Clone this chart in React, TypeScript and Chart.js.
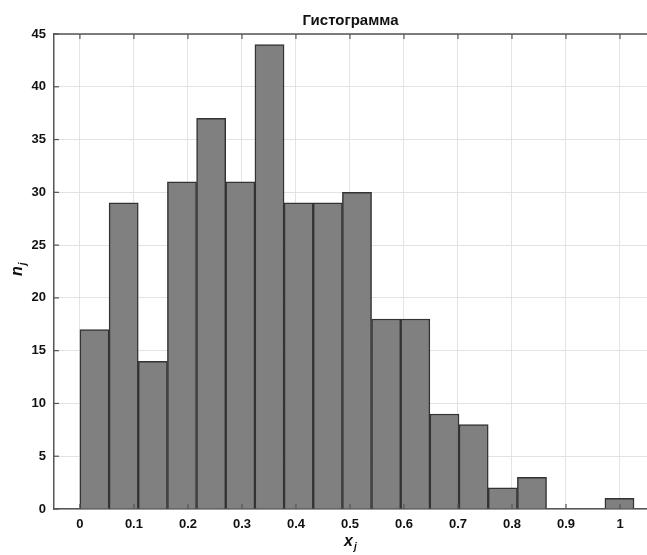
import React, { useEffect, useRef } from "react";
import { Chart, registerables } from "chart.js";

Chart.register(...registerables);

const title = "Гистограмма";
const binEdges = [0, 0.054, 0.108, 0.162, 0.216, 0.27, 0.324, 0.378, 0.432, 0.486, 0.54, 0.594, 0.648, 0.702, 0.756, 0.81, 0.864, 0.918, 0.972, 1.026];
const counts = [17, 29, 14, 31, 37, 31, 44, 29, 29, 30, 18, 18, 9, 8, 2, 3, 0, 0, 1];
const xTicks = [0, 0.1, 0.2, 0.3, 0.4, 0.5, 0.6, 0.7, 0.8, 0.9, 1];
const yTicks = [0, 5, 10, 15, 20, 25, 30, 35, 40, 45];

const FONT = "'Liberation Sans', Arial, Helvetica, sans-serif";

const decorPlugin = {
  id: "decor",
  afterDraw(chart: any) {
    const { ctx, chartArea } = chart;
    const xs = chart.scales.x;
    const ys = chart.scales.y;
    ctx.save();
    ctx.strokeStyle = "#555555";
    ctx.lineWidth = 1.5;
    // top line
    ctx.beginPath();
    ctx.moveTo(chartArea.left, chartArea.top);
    ctx.lineTo(chartArea.right, chartArea.top);
    ctx.stroke();
    ctx.lineWidth = 1.2;
    const tl = 5;
    for (const t of xTicks) {
      const px = xs.getPixelForValue(t);
      ctx.beginPath();
      ctx.moveTo(px, chartArea.bottom);
      ctx.lineTo(px, chartArea.bottom - tl);
      ctx.moveTo(px, chartArea.top);
      ctx.lineTo(px, chartArea.top + tl);
      ctx.stroke();
    }
    for (const t of yTicks) {
      const py = ys.getPixelForValue(t);
      ctx.beginPath();
      ctx.moveTo(chartArea.left, py);
      ctx.lineTo(chartArea.left + tl, py);
      ctx.stroke();
    }
    // title
    ctx.fillStyle = "#111111";
    ctx.textAlign = "center";
    ctx.textBaseline = "middle";
    ctx.font = `bold 15px ${FONT}`;
    ctx.fillText(title, (chartArea.left + chartArea.right) / 2, 21);
    // x label
    ctx.font = `italic bold 16px ${FONT}`;
    ctx.textAlign = "left";
    ctx.textBaseline = "alphabetic";
    const xlx = 344;
    const xly = 546;
    ctx.fillText("x", xlx, xly);
    const wx = ctx.measureText("x").width;
    ctx.font = `italic bold 10px ${FONT}`;
    ctx.fillText("j", xlx + wx + 1, xly + 4);
    // y label
    ctx.save();
    ctx.translate(22, 276);
    ctx.rotate(-Math.PI / 2);
    ctx.font = `italic bold 16px ${FONT}`;
    ctx.fillText("n", 0, 0);
    const wn = ctx.measureText("n").width;
    ctx.font = `italic bold 10px ${FONT}`;
    ctx.fillText("j", wn + 1, 4);
    ctx.restore();
    ctx.restore();
  },
};

export default function App() {
  const ref = useRef<HTMLCanvasElement | null>(null);
  useEffect(() => {
    document.body.style.margin = "0";
    if (!ref.current) return;
    const data = counts.map((c, i) => ({ x: (binEdges[i] + binEdges[i + 1]) / 2, y: c }));
    const chart = new Chart(ref.current, {
      type: "bar",
      data: {
        datasets: [
          {
            data: data as any,
            backgroundColor: "#808080",
            borderColor: "#333333",
            borderWidth: 1.5,
            barPercentage: 1,
            categoryPercentage: 1,
          },
        ],
      },
      options: {
        animation: false,
        responsive: false,
        maintainAspectRatio: false,
        layout: { padding: { top: 34, right: 0, left: 0, bottom: 0 } },
        plugins: { legend: { display: false }, tooltip: { enabled: false }, title: { display: false } },
        scales: {
          x: {
            type: "linear",
            min: -0.048,
            max: 1.05,
            offset: false,
            afterFit(scale: any) {
              scale.height = 46;
            },
            afterBuildTicks(scale: any) {
              scale.ticks = xTicks.map((v) => ({ value: v }));
            },
            grid: { color: "#e3e3e3", drawTicks: false, offset: false, lineWidth: 1 },
            border: { display: true, color: "#555555", width: 1.5 },
            ticks: {
              padding: 8,
              color: "#111111",
              font: { family: FONT, size: 13, weight: "bold" },
              callback: (v: any) => String(v),
            },
          },
          y: {
            type: "linear",
            min: 0,
            max: 45,
            afterFit(scale: any) {
              scale.width = 54;
            },
            afterBuildTicks(scale: any) {
              scale.ticks = yTicks.map((v) => ({ value: v }));
            },
            grid: { color: "#e3e3e3", drawTicks: false, lineWidth: 1 },
            border: { display: true, color: "#555555", width: 1.5 },
            ticks: {
              padding: 8,
              color: "#111111",
              font: { family: FONT, size: 13, weight: "bold" },
            },
          },
        },
      },
      plugins: [decorPlugin],
    });
    return () => chart.destroy();
  }, []);
  return <canvas ref={ref} width={647} height={555} style={{ display: "block" }} />;
}
